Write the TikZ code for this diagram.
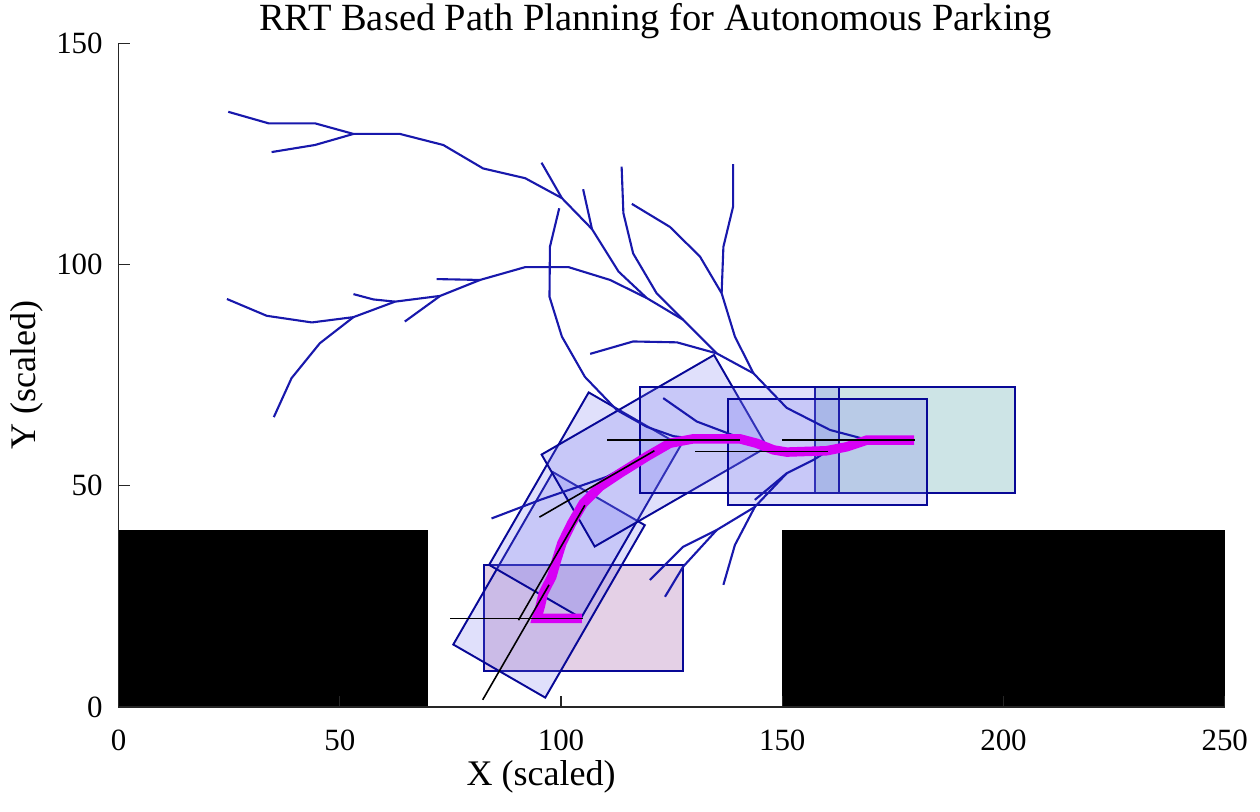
\documentclass[tikz,border=0pt]{standalone}
\usepackage{fontspec}
\setmainfont{Liberation Serif}
\usetikzlibrary{calc}
\definecolor{treeblue}{RGB}{24,24,172}
\definecolor{edgeblue}{RGB}{8,8,150}
\definecolor{carfill}{RGB}{115,115,238}
\definecolor{startfill}{RGB}{228,208,230}
\definecolor{goalfill}{RGB}{205,228,230}
\definecolor{pathmag}{RGB}{215,0,245}
\definecolor{axisgray}{RGB}{38,38,38}

\begin{document}
\begin{tikzpicture}[x=0.0885cm, y=0.0885cm,
  tree/.style={treeblue, line width=1.2pt, line join=round},
  car/.style={draw=edgeblue, line width=1.1pt, fill=carfill, fill opacity=0.22},
  hdg/.style={black, line width=0.9pt},
  tick/.style={font=\fontsize{17.6}{20}\selectfont, inner sep=0pt}]
\useasboundingbox (-26.78,-23.73) rectangle (257.97,159.77);

% obstacles
\fill (0,0) rectangle (70,40);
\fill (150,0) rectangle (250,40);

% start, goal and the poses along the path
\draw[car, fill=startfill, fill opacity=1] (82.5,8.1) rectangle (127.5,32.1);
\draw[car, fill=goalfill, fill opacity=1] (157.5,48.3) rectangle (202.5,72.3);
\foreach \cx/\cy/\a in {97.3/27.6/60, 105.4/45.6/60, 121.1/57.9/30, 140.4/60.3/0, 160.3/57.7/0}
  {\draw[car, shift={(\cx,\cy)}, rotate=\a] (-22.5,-12) rectangle (22.5,12);}

% tree
\draw[tree] (24.8,134.5) -- (33.9,131.9) -- (44.4,131.9) -- (53.1,129.5) -- (63.6,129.5) -- (73.4,127.0) -- (82.4,121.7) -- (91.9,119.5) -- (100.2,115.0) -- (107.0,108.0) -- (113.0,98.4) -- (119.4,92.4) -- (127.6,87.5) -- (135.2,79.9) -- (143.5,75.4) -- (151.0,67.6) -- (160.8,62.6) -- (168.0,60.7);
\draw[tree] (53.1,129.5) -- (44.4,127.0) -- (34.6,125.4);
\draw[tree] (95.6,123.0) -- (100.2,115.0);
\draw[tree] (105.0,117.0) -- (107.0,108.0);
\draw[tree] (113.7,122.1) -- (114.1,111.6) -- (116.3,102.5) -- (121.6,93.5) -- (127.6,87.5);
\draw[tree] (106.6,79.8) -- (116.3,82.6) -- (126.2,82.4) -- (135.2,79.9);
\draw[tree] (116.0,113.7) -- (124.6,108.5) -- (131.4,101.8) -- (136.3,93.5) -- (139.3,83.7) -- (143.5,75.4);
\draw[tree] (138.9,122.7) -- (138.9,113.1) -- (136.7,104.0) -- (136.3,93.5);
\draw[tree] (99.6,112.7) -- (97.5,104.0) -- (97.4,92.7) -- (100.2,83.7) -- (105.4,74.6) -- (112.6,67.1) -- (119.4,63.3) -- (125.4,61.2) -- (130.3,60.6);
\draw[tree] (123.1,69.8) -- (130.7,64.5) -- (139.7,61.1) -- (146.5,58.8);
\draw[tree] (24.5,92.2) -- (33.5,88.4) -- (43.7,86.9) -- (53.1,88.1) -- (62.5,91.6) -- (72.7,92.9) -- (81.7,96.5) -- (91.9,99.4) -- (101.7,99.4) -- (111.1,96.5) -- (119.4,92.4);
\draw[tree] (53.1,88.1) -- (45.5,82.2) -- (39.1,74.3) -- (35.1,65.5);
\draw[tree] (62.5,91.6) -- (57.6,92.1) -- (53.1,93.3);
\draw[tree] (72.7,92.9) -- (64.7,87.1);
\draw[tree] (81.7,96.5) -- (71.9,96.7);
\draw[tree] (84.3,42.6) -- (95.3,46.8) -- (110.3,52.0) -- (121.1,57.9);
\draw[tree] (160.0,57.7) -- (157.0,55.8) -- (151.0,52.8) -- (143.8,46.8);
\draw[tree] (151.0,52.8) -- (143.8,45.2) -- (135.2,40.0) -- (127.6,36.2) -- (120.1,28.7);
\draw[tree] (135.2,40.0) -- (127.6,31.7) -- (123.5,24.9);
\draw[tree] (143.8,45.2) -- (139.3,36.6) -- (136.7,27.6);

% path
\draw[pathmag, line width=5.4pt] (104.7,20.0) -- (94.5,20.0) -- (95.3,22.7) -- (96.0,25.7) -- (97.9,29.4) -- (99.0,33.2) -- (100.2,37.0) -- (102.4,41.5) -- (105.0,46.0) -- (108.8,49.8) -- (113.3,52.8) -- (119.4,56.6) -- (124.6,59.6) -- (129.9,60.6) -- (140.4,60.6) -- (144.2,59.6) -- (148.0,58.1) -- (151.0,57.6) -- (160.0,57.9) -- (164.6,58.8) -- (169.1,60.3) -- (179.8,60.3);

% headings
\foreach \cx/\cy/\a in {105/20/0, 97.3/27.6/60, 105.4/45.6/60, 121.1/57.9/30, 140.4/60.3/0, 160.3/57.7/0, 180/60.3/0}
  {\draw[hdg, shift={(\cx,\cy)}, rotate=\a] (-30,0) -- (0,0);}

% axes
\draw[axisgray, line width=0.8pt] (0,150) -- (0,0) -- (250,0);
\foreach \i in {0,50,...,250}{\draw[axisgray, line width=0.8pt] (\i,0) -- (\i,2.5); \path (\i,-5.1) node[tick, anchor=north] (xt\i) {\i};}
\foreach \j in {0,50,100,150}{\draw[axisgray, line width=0.8pt] (0,\j) -- (2.5,\j); \path (-3.5,\j) node[tick, anchor=east] (yt\j) {\j};}

\node[font=\fontsize{21.9}{26}\selectfont, anchor=base] (title) at (121.4,152.8) {RRT Based Path Planning for Autonomous Parking};
\node[font=\fontsize{20.5}{24}\selectfont] (xlabel) at (95.5,-15.8) {X (scaled)};
\node[font=\fontsize{20.5}{24}\selectfont, rotate=90] (ylabel) at (-20.7,75) {Y (scaled)};
\end{tikzpicture}
\end{document}
